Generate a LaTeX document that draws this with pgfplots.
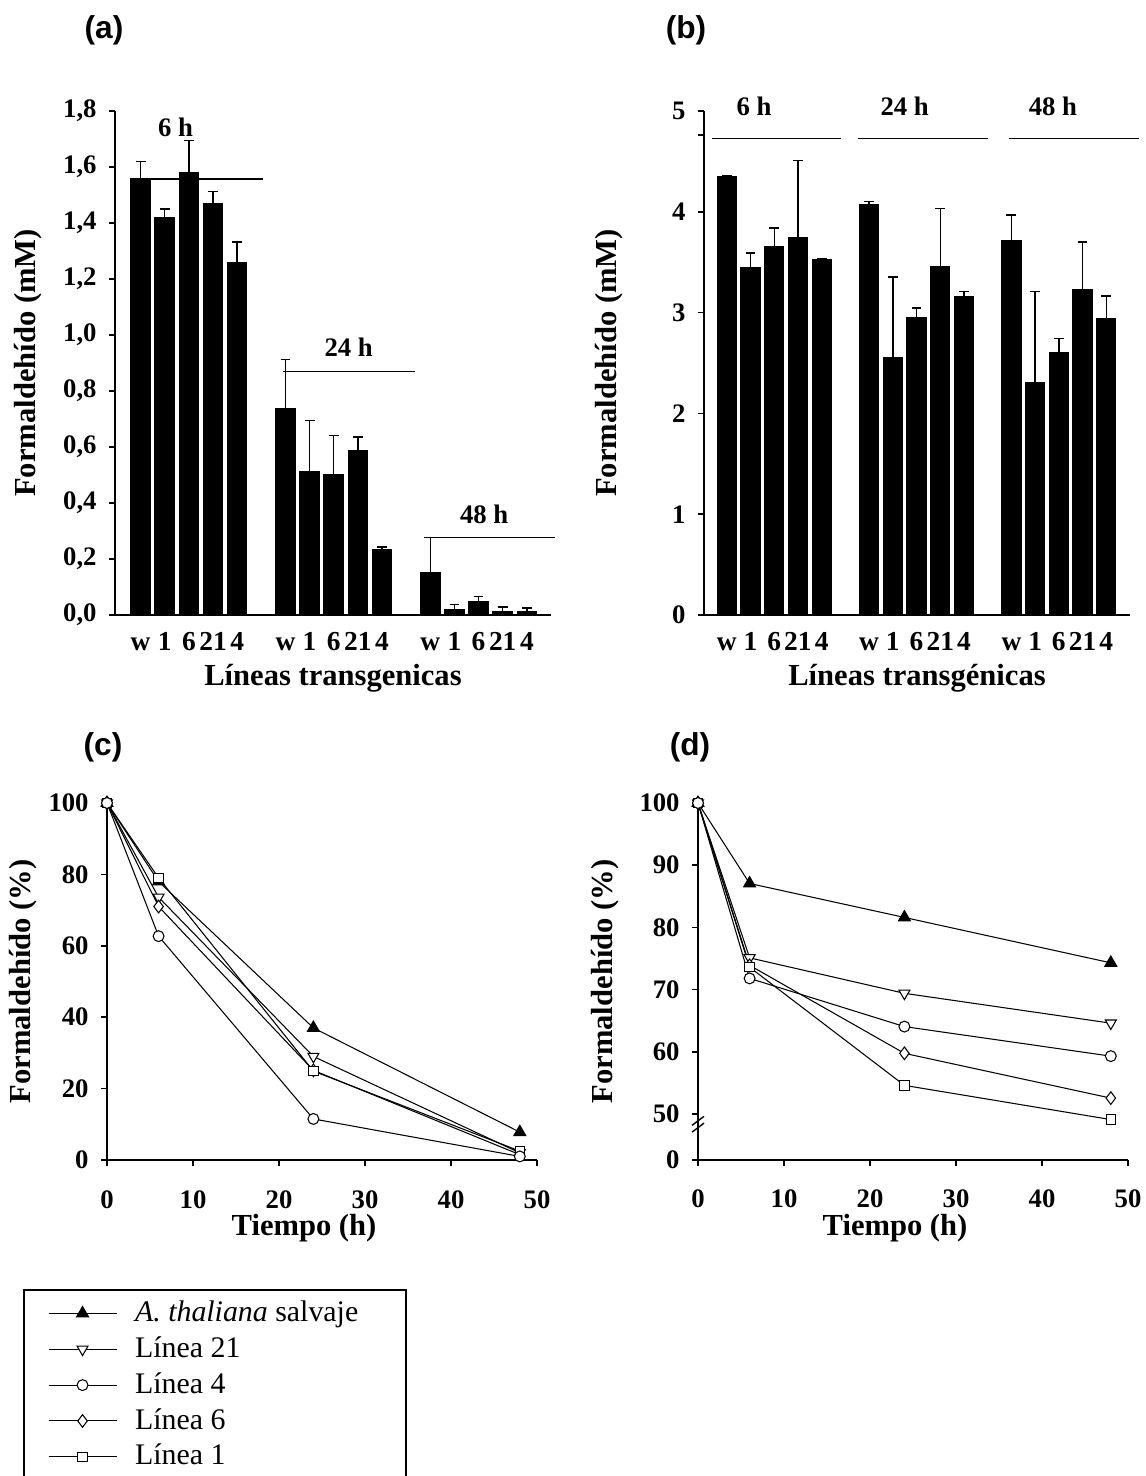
\documentclass[border=0pt]{standalone}
\usepackage{pgfplots}
\pgfplotsset{compat=1.18}
\usepackage{fontspec}
\setmainfont{Liberation Serif}
\newfontfamily\arial{Liberation Sans}

\pgfplotstableread{
x y e
0 1.553 0.067
1 1.421 0.029
2 1.581 0.113
3 1.471 0.041
4 1.257 0.075
6 0.737 0.175
7 0.512 0.182
8 0.501 0.140
9 0.587 0.048
10 0.232 0.011
12 0.153 0.123
13 0.021 0.017
14 0.049 0.016
15 0.014 0.014
16 0.013 0.012
}\dataA

\pgfplotstableread{
x y e
0 4.352 0.004
1 3.445 0.145
2 3.657 0.184
3 3.743 0.766
4 3.527 0.005
6 4.073 0.032
7 2.553 0.801
8 2.954 0.090
9 3.460 0.570
10 3.162 0.047
12 3.712 0.255
13 2.310 0.899
14 2.604 0.138
15 3.225 0.475
16 2.938 0.228
}\dataB

\tikzset{grplab/.style={font=\bfseries\fontsize{7.6}{9}\selectfont}}
\newcommand\labfont{\bfseries\fontsize{8.7}{10}\selectfont}
\pgfplotsset{
 base/.style={
  scale only axis,
  axis x line*=bottom, axis y line*=left,
  axis line style={line width=0.45pt, -},
  tick align=outside,
  major tick length=0.06cm,
  tick style={line width=0.45pt, black},
  tick label style={font=\bfseries\fontsize{7.6}{9}\selectfont},
  /pgf/number format/assume math mode=true,
  clip=false,
 },
 ylab/.style={every axis y label/.style={at={(rel axis cs:0,0.5)}, xshift=-#1, rotate=90, anchor=center, font=\labfont}},
 xlab/.style={every axis x label/.style={at={(rel axis cs:0.5,0)}, yshift=-#1, anchor=center, font=\labfont}},
 barax/.style={base, ymin=0,
   xtick={0,1,2,3,4,6,7,8,9,10,12,13,14,15,16},
   xticklabels={w,1,6,21,4,w,1,6,21,4,w,1,6,21,4},
   xtick style={draw=none},
   xticklabel style={anchor=base, yshift=-0.30cm, font=\bfseries\fontsize{7.8}{9}\selectfont},
   xlab=0.63cm,
   ylabel={Formaldehído (mM)},
 },
 bars/.style={ybar, bar width=0.81, fill=black, draw=black, line width=0.3pt,
   error bars/.cd, y dir=plus, y explicit,
   error bar style={line width=0.4pt, black},
   error mark options={rotate=90, mark size=1.4pt, line width=0.4pt, black}},
 grp/.style={black, line width=0.4pt, mark=none, forget plot},
 ser/.style={black, line width=0.3pt},
 wt/.style={ser, mark=triangle*, mark size=1.95pt, mark options={fill=black, solid}},
 l21/.style={ser, mark=triangle*, mark size=1.8pt, mark options={rotate=180, fill=white, solid}},
 l4/.style={ser, mark=*, mark size=1.55pt, mark options={fill=white, solid}},
 l6/.style={ser, mark=diamond*, mark size=1.8pt, mark options={fill=white, solid}},
 l1/.style={ser, mark=square*, mark size=1.35pt, mark options={fill=white, solid}},
 lineax/.style={base, xmin=0, xmax=50, xtick={0,10,...,50},
   xticklabel style={anchor=base, yshift=-0.42cm},
   xlab=0.68cm, every axis x label/.append style={xshift=-0.18cm},
   xlabel={Tiempo (h)}, ylabel={Formaldehído (\%)}},
}

\begin{document}
\begin{tikzpicture}
\path[use as bounding box] (0,0) rectangle (11.45,14.76);

% (a)
\begin{axis}[barax, ylab=0.87cm, at={(1.15cm,8.61cm)}, anchor=south west, width=4.36cm, height=5.04cm,
  xmin=-1.06, xmax=17, ymax=1.8,
  ytick={0,0.2,...,1.8},
  yticklabels={{0,0},{0,2},{0,4},{0,6},{0,8},{1,0},{1,2},{1,4},{1,6},{1,8}},
  xlabel={Líneas transgenicas}]
\addplot[bars] table[x=x, y=y, y error=e] {\dataA};
\addplot[grp] coordinates {(-0.42,1.557) (5.06,1.557)};
\addplot[grp] coordinates {(5.89,0.87) (11.35,0.87)};
\addplot[grp] coordinates {(11.73,0.277) (17.18,0.277)};
\node[grplab] at (axis cs:1.45,1.74) {6 h};
\node[grplab] at (axis cs:8.62,0.956) {24 h};
\node[grplab] at (axis cs:14.23,0.358) {48 h};
\end{axis}

% (b)
\begin{axis}[barax, ylab=0.95cm, at={(7.04cm,8.61cm)}, anchor=south west, width=4.26cm, height=5.04cm,
  xmin=-0.96, xmax=17, ymax=5,
  ytick={0,1,...,5},
  extra y ticks={4.76}, extra y tick labels={},
  xlabel={Líneas transgénicas}]
\addplot[bars] table[x=x, y=y, y error=e] {\dataB};
\addplot[grp] coordinates {(-0.63,4.73) (4.83,4.73)};
\addplot[grp] coordinates {(5.52,4.73) (11.0,4.73)};
\addplot[grp] coordinates {(11.91,4.73) (17.37,4.73)};
\node[grplab] at (axis cs:1.15,5.05) {6 h};
\node[grplab] at (axis cs:7.5,5.05) {24 h};
\node[grplab] at (axis cs:13.75,5.05) {48 h};
\end{axis}

% (c)
\begin{axis}[lineax, ylab=0.84cm, at={(1.07cm,3.16cm)}, anchor=south west, width=4.30cm, height=3.57cm,
  ymin=0, ymax=100, ytick={0,20,...,100},
  legend style={at={(rel axis cs:-0.195,-0.362)}, anchor=north west,
    draw=black, line width=0.55pt, font=\fontsize{8.5}{10}\selectfont,
    inner xsep=6.8pt, inner ysep=1.5pt, row sep=0pt,
    nodes={inner ysep=0.6pt, inner xsep=2pt, text height=6.8pt, text depth=2.2pt}},
  legend cell align=left,
  legend image code/.code={\draw[mark repeat=2,mark phase=2,#1] plot coordinates {(0cm,0cm) (0.34cm,0cm) (0.68cm,0cm)}; \path (0.79cm,0cm);}]
\addplot[wt, forget plot] coordinates {(0,100) (6,78.0) (24,37.0) (48,7.8)};
\addplot[l21, forget plot] coordinates {(0,100) (6,73.6) (24,29.0) (48,2.0)};
\addplot[l6, forget plot] coordinates {(0,100) (6,71.0) (24,25.1) (48,1.5)};
\addplot[l1, forget plot] coordinates {(0,100) (6,79.0) (24,24.9) (48,2.5)};
\addplot[l4, forget plot] coordinates {(0,100) (6,62.7) (24,11.5) (48,1.0)};
\addlegendimage{wt}\addlegendentry{\makebox[2.4cm][l]{\textit{A. thaliana} salvaje}}
\addlegendimage{l21}\addlegendentry{Línea 21}
\addlegendimage{l4}\addlegendentry{Línea 4}
\addlegendimage{l6}\addlegendentry{Línea 6}
\addlegendimage{l1}\addlegendentry{Línea 1}
\end{axis}

% (d)
\begin{axis}[lineax, ylab=0.93cm, at={(6.98cm,3.16cm)}, anchor=south west, width=4.30cm, height=3.57cm,
  ymin=42.6, ymax=100, ytick={42.6,50,60,70,80,90,100},
  yticklabels={0,50,60,70,80,90,100}]
\addplot[wt] coordinates {(0,100) (6,87.06) (24,81.6) (48,74.3)};
\addplot[l21] coordinates {(0,100) (6,75.1) (24,69.4) (48,64.6)};
\addplot[l6] coordinates {(0,100) (6,73.9) (24,59.75) (48,52.55)};
\addplot[l1] coordinates {(0,100) (6,73.6) (24,54.6) (48,49.1)};
\addplot[l4] coordinates {(0,100) (6,71.8) (24,64.05) (48,59.3)};
\draw[line width=0.4pt] (axis cs:0,48.9) ++(-0.06cm,-0.045cm) -- ++(0.12cm,0.09cm);
\draw[line width=0.4pt] (axis cs:0,47.8) ++(-0.06cm,-0.045cm) -- ++(0.12cm,0.09cm);
\end{axis}

\node[font=\arial\bfseries\fontsize{9}{11}\selectfont] at (1.04,14.46) {(a)};
\node[font=\arial\bfseries\fontsize{9}{11}\selectfont] at (6.86,14.46) {(b)};
\node[font=\arial\bfseries\fontsize{9}{11}\selectfont] at (1.03,7.29) {(c)};
\node[font=\arial\bfseries\fontsize{9}{11}\selectfont] at (6.90,7.29) {(d)};
\end{tikzpicture}
\end{document}
